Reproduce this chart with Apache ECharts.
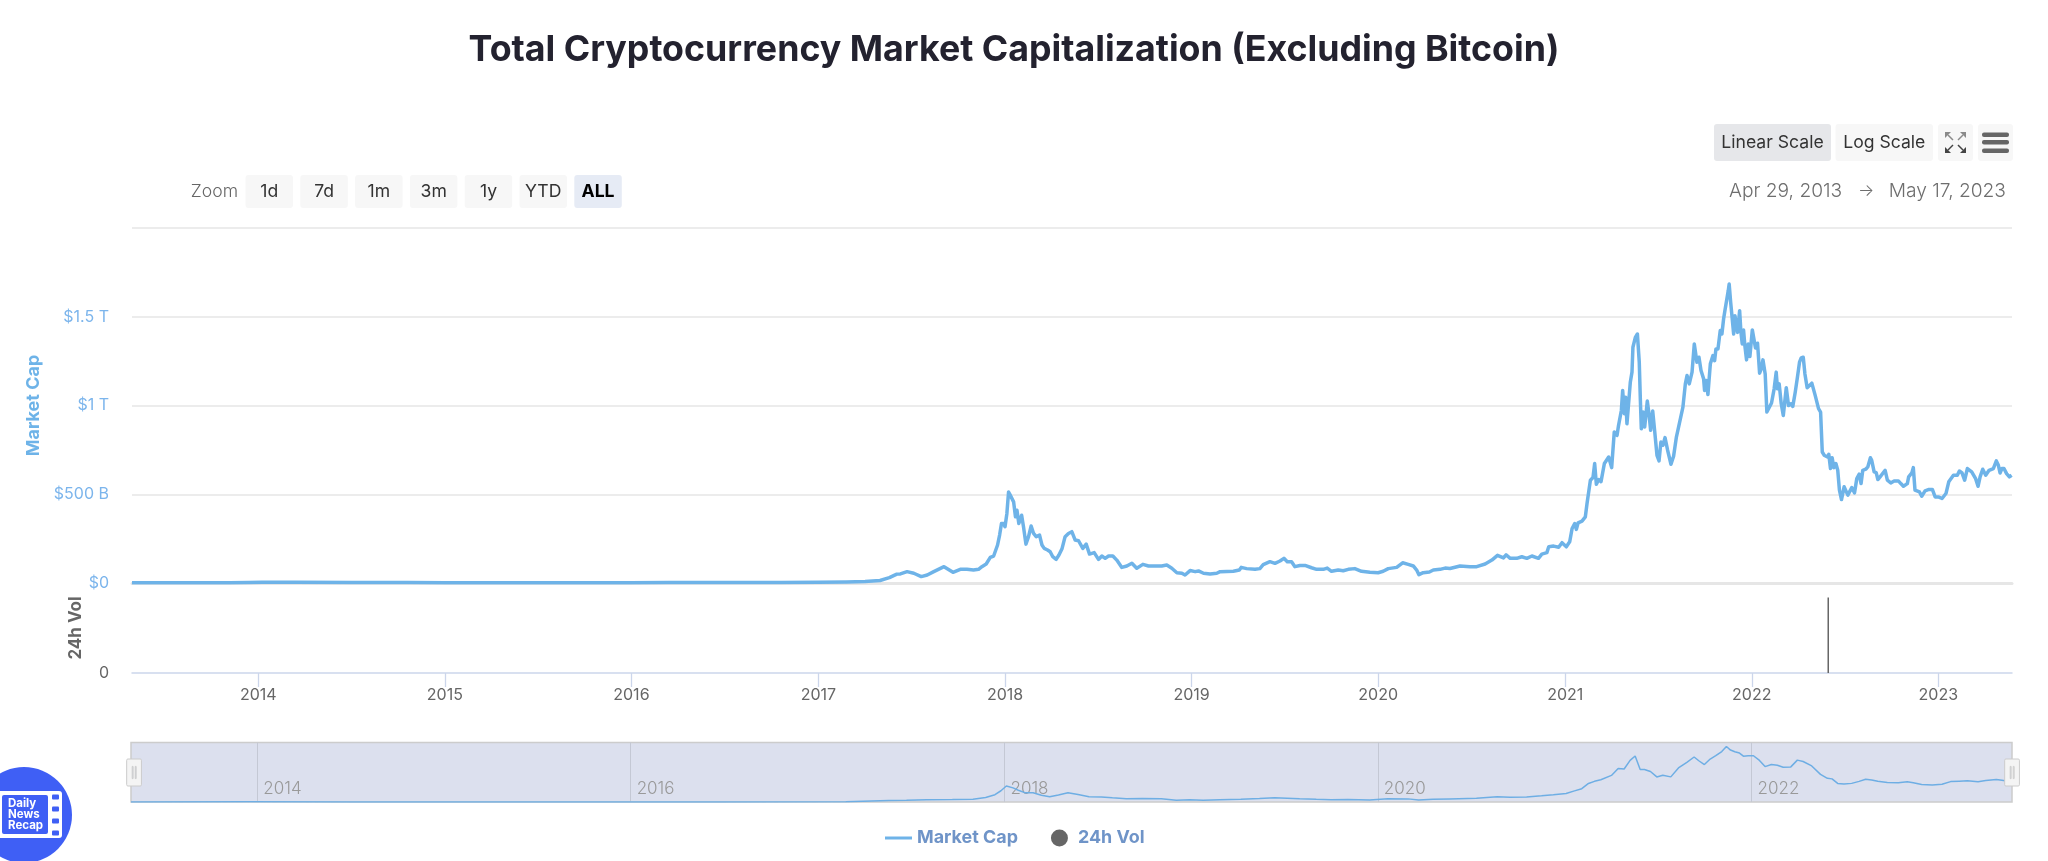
<!DOCTYPE html>
<html>
<head>
<meta charset="utf-8">
<title>Total Cryptocurrency Market Capitalization (Excluding Bitcoin)</title>
<script src="https://cdn.jsdelivr.net/npm/echarts@6/dist/echarts.min.js"></script>
<style>
html, body { margin: 0; padding: 0; background: #fff; }
#chart { width: 2048px; height: 861px; }
</style>
</head>
<body>
<div id="chart"></div>
<script>
// dates are decimal years, values are billions of USD
var capDates = [
	2013.323, 2013.6, 2013.85, 2013.95, 2014.02, 2014.2, 2014.5, 2014.8, 2015.0, 2015.5, 2016.0, 2016.2, 2016.5, 2016.8, 2017.0, 2017.15, 2017.25, 2017.33, 2017.38, 2017.42,
	2017.439, 2017.475, 2017.511, 2017.551, 2017.583, 2017.618, 2017.673, 2017.721,
	2017.760, 2017.796, 2017.831, 2017.858, 2017.876, 2017.899, 2017.921, 2017.939, 2017.949, 2017.960, 2017.971, 2017.981, 2017.992, 2018.000,
	2018.010, 2018.019, 2018.028, 2018.046, 2018.056, 2018.064, 2018.074, 2018.089, 2018.099, 2018.112, 2018.126, 2018.140, 2018.153, 2018.167, 2018.185, 2018.198, 2018.210, 2018.228, 2018.242, 2018.256, 2018.274, 2018.289, 2018.306, 2018.322, 2018.340, 2018.358, 2018.376, 2018.394, 2018.417, 2018.435, 2018.453, 2018.478, 2018.501, 2018.519, 2018.537, 2018.555, 2018.578, 2018.599, 2018.626, 2018.653, 2018.680, 2018.706, 2018.739, 2018.769, 2018.805, 2018.840, 2018.867, 2018.894, 2018.921, 2018.948, 2018.965, 2018.992,
	2019.019, 2019.037, 2019.064, 2019.099, 2019.135, 2019.153, 2019.224, 2019.256, 2019.266, 2019.295, 2019.340, 2019.366, 2019.384, 2019.420, 2019.447, 2019.474, 2019.495, 2019.513, 2019.536, 2019.554, 2019.581, 2019.608, 2019.643, 2019.670, 2019.706, 2019.727, 2019.750, 2019.786, 2019.813, 2019.840, 2019.875, 2019.911, 2019.956,
	2020.000, 2020.027, 2020.054, 2020.099, 2020.131, 2020.161, 2020.188, 2020.206, 2020.218, 2020.241, 2020.274, 2020.295, 2020.331, 2020.358, 2020.384, 2020.438, 2020.491, 2020.527, 2020.572, 2020.608, 2020.638, 2020.670, 2020.684, 2020.706, 2020.741, 2020.768, 2020.795, 2020.822, 2020.857, 2020.875, 2020.902, 2020.912, 2020.938, 2020.965, 2020.983,
	2021.006, 2021.024, 2021.037, 2021.051, 2021.060, 2021.069, 2021.090, 2021.108, 2021.117, 2021.126, 2021.135, 2021.149, 2021.158, 2021.167, 2021.180, 2021.192, 2021.210, 2021.233, 2021.249, 2021.263, 2021.278, 2021.285, 2021.301, 2021.308, 2021.317, 2021.324, 2021.331, 2021.349, 2021.358, 2021.363, 2021.376, 2021.387, 2021.397, 2021.403, 2021.408, 2021.417, 2021.426, 2021.440, 2021.449, 2021.458, 2021.469, 2021.480, 2021.492, 2021.503, 2021.513, 2021.524, 2021.535, 2021.549, 2021.567, 2021.581, 2021.596, 2021.608, 2021.631, 2021.644, 2021.653, 2021.665, 2021.680, 2021.692, 2021.697, 2021.706, 2021.717, 2021.728, 2021.742, 2021.747, 2021.756, 2021.765, 2021.778, 2021.792, 2021.801, 2021.808, 2021.819, 2021.831,
	2021.840, 2021.849, 2021.856, 2021.865, 2021.874, 2021.879, 2021.887, 2021.894, 2021.903, 2021.910, 2021.917, 2021.924, 2021.935, 2021.942, 2021.949, 2021.956, 2021.963, 2021.972, 2021.981, 2021.990,
	2022.003, 2022.010, 2022.020, 2022.031, 2022.042, 2022.051, 2022.060, 2022.072, 2022.081, 2022.090, 2022.106, 2022.120, 2022.131, 2022.138, 2022.147, 2022.158, 2022.169, 2022.185, 2022.197, 2022.210, 2022.220, 2022.233, 2022.245, 2022.256, 2022.265, 2022.276, 2022.285, 2022.297, 2022.322, 2022.340, 2022.358, 2022.369, 2022.378, 2022.388, 2022.406, 2022.413, 2022.422, 2022.431, 2022.440, 2022.451, 2022.461, 2022.470, 2022.481, 2022.495, 2022.504, 2022.515, 2022.536, 2022.551, 2022.563, 2022.576, 2022.586, 2022.595, 2022.611, 2022.622, 2022.636, 2022.643, 2022.656, 2022.667, 2022.676, 2022.688, 2022.715, 2022.727, 2022.745, 2022.763, 2022.786, 2022.799, 2022.813, 2022.834, 2022.841, 2022.858, 2022.866, 2022.875, 2022.899, 2022.911, 2022.929, 2022.950, 2022.968, 2022.983,
	2023.000, 2023.020, 2023.041, 2023.056, 2023.066, 2023.081, 2023.102, 2023.113, 2023.127, 2023.141, 2023.156, 2023.179, 2023.200, 2023.213, 2023.224, 2023.238, 2023.254, 2023.272, 2023.295, 2023.311, 2023.322, 2023.331, 2023.341, 2023.352, 2023.366, 2023.381, 2023.393
];
var capValues = [
	1, 1, 2, 3, 4, 4, 3, 3, 2, 2, 2, 3, 3, 3, 4, 6, 9, 14, 30, 50,
	51, 64, 55, 36, 45, 64, 92, 60,
	77, 77, 73, 77, 92, 107, 144, 152, 158, 214, 270, 335, 335, 317,
	392, 513, 495, 457, 373, 410, 335, 382, 317, 219, 261, 321, 279, 261, 270, 214, 195, 186, 176, 148, 133, 158, 195, 261, 279, 289, 242, 238, 195, 219, 163, 171, 133, 152, 139, 152, 152, 129, 88, 96, 111, 83, 105, 96, 96, 96, 101, 83, 58, 55, 45, 70,
	64, 68, 55, 51, 55, 64, 66, 73, 88, 81, 77, 81, 103, 120, 111, 124, 139, 120, 120, 92, 99, 99, 86, 77, 77, 84, 66, 73, 69, 77, 81, 66, 60,
	58, 66, 81, 88, 114, 105, 96, 73, 47, 58, 62, 73, 77, 84, 82, 96, 92, 92, 107, 129, 156, 141, 159, 139, 139, 148, 139, 152, 139, 163, 171, 204, 208, 201, 227,
	204, 232, 307, 335, 302, 339, 349, 373, 448, 457, 579, 594, 673, 556, 583, 571, 673, 710, 650, 851, 832, 882, 972, 1085, 954, 1047, 897, 1131, 1188, 1328, 1384, 1403, 1244, 1028, 869, 963, 879, 1025, 954, 860, 969, 851, 719, 688, 794, 776, 819, 748, 669, 714, 822, 879, 991, 1122, 1169, 1122, 1188, 1347, 1356, 1244, 1272, 1197, 1150, 1085, 1141, 1062, 1235, 1281, 1253, 1319, 1319, 1422,
	1403, 1487, 1534, 1538, 1647, 1684, 1581, 1572, 1403, 1506, 1497, 1412, 1534, 1412, 1347, 1426, 1338, 1257, 1347, 1276,
	1426, 1384, 1324, 1351, 1182, 1206, 1257, 1178, 963, 963, 1014, 1094, 1188, 1094, 1122, 1010, 944, 1100, 1000, 1010, 995, 1075, 1160, 1244, 1268, 1272, 1178, 1100, 1126, 1057, 982, 963, 738, 720, 710, 725, 645, 706, 650, 673, 635, 523, 470, 542, 551, 495, 538, 508, 588, 613, 560, 635, 641, 654, 706, 691, 626, 622, 583, 598, 635, 579, 564, 575, 575, 560, 545, 560, 598, 620, 650, 523, 513, 489, 519, 527, 527, 485,
	485, 476, 504, 570, 575, 607, 607, 631, 620, 579, 645, 626, 588, 545, 598, 641, 607, 635, 645, 688, 663, 620, 645, 645, 616, 598, 607
];
var volDates = [2022.41];
var volValues = [84];

var capTicks = [0, 500, 1000, 1500, 2000];
var capTickLabels = ['$0', '$500 B', '$1 T', '$1.5 T', ''];
var yearTicks = [2014, 2015, 2016, 2017, 2018, 2019, 2020, 2021, 2022, 2023];
var navYearTicks = [2014, 2016, 2018, 2020, 2022];
var zoomLabels = ['1d', '7d', '1m', '3m', '1y', 'YTD', 'ALL'];

var FONT = 'Inter, "Noto Sans", sans-serif';

function yearToTime(y) {
	var yr = Math.floor(y);
	var a = Date.UTC(yr, 0, 1);
	var b = Date.UTC(yr + 1, 0, 1);
	return a + (y - yr) * (b - a);
}

function zip(dates, values) {
	var arr = [];
	for (var i = 0; i < dates.length; i++) {
		arr.push([yearToTime(dates[i]), values[i]]);
	}
	return arr;
}

// the navigator holds a coarser copy of the line, three readings to a point
function coarsen(data) {
	var arr = [];
	for (var i = 0; i < data.length; i += 3) {
		var part = data.slice(i, i + 3);
		var sum = 0;
		part.forEach(function(d) {
			sum += d[1];
		});
		arr.push([part[0][0], sum / part.length]);
	}
	return arr;
}

var capData = zip(capDates, capValues);
var navData = coarsen(capData);
var volData = zip(volDates, volValues);
var yearValues = yearTicks.map(yearToTime);
var navYearValues = navYearTicks.map(yearToTime);
var xMin = yearToTime(2013.323);
var xMax = yearToTime(2023.395);

function yearText(value) {
	return String(new Date(value + 86400000).getUTCFullYear());
}

// buttons above the plot
function button(x, y, w, h, label, fill, color, weight) {
	return [{
		type : 'rect',
		shape : { x : x, y : y, width : w, height : h, r : 3 },
		style : { fill : fill }
	}, {
		type : 'text',
		x : x + w / 2,
		y : y + h / 2,
		style : { text : label, fill : color, font : weight + ' 17.6px ' + FONT, align : 'center', verticalAlign : 'middle' }
	}];
}

function label(x, y, text, align, color, size) {
	return {
		type : 'text',
		x : x,
		y : y,
		style : { text : text, fill : color, font : '300 ' + size + 'px ' + FONT, align : align, verticalAlign : 'middle' }
	};
}

// one corner arrow of the full screen icon
function corner(x, y, dx, dy, color) {
	return [{
		type : 'polygon',
		shape : { points : [[x, y], [x + 6 * dx, y], [x, y + 6 * dy]] },
		style : { fill : color }
	}, {
		type : 'line',
		shape : { x1 : x + 3 * dx, y1 : y + 3 * dy, x2 : x + 8 * dx, y2 : y + 8 * dy },
		style : { stroke : color, lineWidth : 1.5 }
	}];
}

var elements = [];
elements.push(label(238, 192, 'Zoom', 'right', '#666666', 17.6));
zoomLabels.forEach(function(text, i) {
	var isAll = text == 'ALL';
	elements = elements.concat(button(245.5 + i * 54.8, 175, 47.5, 33, text,
		isAll ? '#e6ebf5' : '#f7f7f7', isAll ? '#000000' : '#333333', isAll ? 700 : 400));
});
elements = elements.concat(button(1714, 124, 117, 37, 'Linear Scale', '#e6e7ea', '#333333', 400));
elements = elements.concat(button(1835.5, 124, 97.5, 37, 'Log Scale', '#f7f7f7', '#333333', 400));
elements.push({ type : 'rect', shape : { x : 1938, y : 124, width : 35, height : 37, r : 3 }, style : { fill : '#f7f7f7' } });
elements.push({ type : 'rect', shape : { x : 1978, y : 124, width : 35, height : 37, r : 3 }, style : { fill : '#f7f7f7' } });
elements = elements.concat(corner(1945, 132, 1, 1, '#8a8a8a'), corner(1966, 132, -1, 1, '#8a8a8a'),
	corner(1945, 153, 1, -1, '#444444'), corner(1966, 153, -1, -1, '#444444'));
[132.5, 140, 148.5].forEach(function(y) {
	elements.push({ type : 'rect', shape : { x : 1982, y : y, width : 27, height : 4.5, r : 2 }, style : { fill : '#666666' } });
});
elements.push(label(1729, 191, 'Apr 29, 2013', 'left', '#6e6e6e', 19.2));
elements.push(label(1866, 191, '→', 'center', '#6e6e6e', 17));
elements.push(label(2006, 191, 'May 17, 2023', 'right', '#6e6e6e', 19.2));

// logo in the lower left corner
elements.push({ type : 'circle', shape : { cx : 24, cy : 815, r : 48 }, style : { fill : '#3f5ff5' } });
elements.push({ type : 'rect', shape : { x : -4, y : 791, width : 66, height : 47, r : 3 }, style : { fill : '#ffffff' } });
elements.push({ type : 'rect', shape : { x : 2, y : 795, width : 46, height : 39, r : 2 }, style : { fill : '#3f5ff5' } });
[797, 809, 821, 833].forEach(function(y) {
	elements.push({ type : 'rect', shape : { x : 52, y : y - 2.5, width : 7, height : 5, r : 1 }, style : { fill : '#3f5ff5' } });
});
['Daily', 'News', 'Recap'].forEach(function(text, i) {
	elements.push({
		type : 'text',
		x : 8,
		y : 804 + i * 11,
		style : { text : text, fill : '#ffffff', font : '700 11.5px ' + FONT, verticalAlign : 'middle' }
	});
});

var obj = echarts.init(document.getElementById('chart'));
var option = {
	animation : false,
	title : {
		text : 'Total Cryptocurrency Market Capitalization (Excluding Bitcoin)',
		left : 1009,
		textAlign : 'center',
		top : 27,
		textStyle : { fontFamily : FONT, fontSize : 35.75, fontWeight : 700, color : '#23222f' }
	},
	tooltip : { trigger : 'axis' },
	legend : {
		left : 880,
		top : 824,
		itemWidth : 27,
		itemHeight : 17,
		itemGap : 33,
		textStyle : { fontFamily : FONT, fontSize : 17.9, fontWeight : 700, color : '#6f94c8' },
		data : [
			{ name : 'Market Cap', icon : 'path://M0 0H27V3H0z' },
			{ name : '24h Vol', icon : 'circle' }
		]
	},
	graphic : { elements : elements },
	grid : [
		{ left : 132, width : 1880, top : 228, height : 355 },
		{ left : 132, width : 1880, top : 583, height : 90 },
		{ left : 131, width : 1881, top : 742.5, height : 59.5, show : true, backgroundColor : '#dce0ee', borderColor : '#cccccc', borderWidth : 1.5 }
	],
	xAxis : [
		{
			type : 'value',
			gridIndex : 0,
			min : xMin,
			max : xMax,
			axisLine : { onZero : false, lineStyle : { color : '#e6e6e6', width : 3 } },
			axisTick : { show : false },
			axisLabel : { show : false },
			splitLine : { show : false }
		},
		{
			type : 'value',
			gridIndex : 1,
			min : xMin,
			max : xMax,
			axisLine : { onZero : false, lineStyle : { color : '#ccd6eb', width : 1.5 } },
			axisTick : { show : true, length : 14, customValues : yearValues, lineStyle : { color : '#ccd6eb', width : 1.3 } },
			axisLabel : {
				customValues : yearValues,
				margin : 14,
				fontFamily : FONT,
				fontSize : 16,
				fontWeight : 400,
				color : '#666666',
				formatter : yearText
			},
			splitLine : { show : false }
		},
		{
			type : 'value',
			gridIndex : 2,
			min : xMin,
			max : xMax,
			axisLine : { show : false },
			axisTick : { show : false, customValues : navYearValues },
			axisLabel : {
				customValues : navYearValues,
				inside : true,
				margin : 5,
				align : 'left',
				padding : [0, 0, 0, 6],
				fontFamily : FONT,
				fontSize : 17,
				fontWeight : 300,
				color : '#999999',
				formatter : yearText
			},
			splitLine : { show : true, lineStyle : { color : '#c4c8d4', width : 1 } }
		}
	],
	yAxis : [
		{
			type : 'value',
			gridIndex : 0,
			min : 0,
			max : 2000,
			interval : 500,
			name : 'Market Cap',
			nameLocation : 'middle',
			nameGap : 87.5,
			nameTextStyle : { fontFamily : FONT, fontSize : 18, fontWeight : 700, color : '#6eb3e8' },
			axisLine : { show : false },
			axisTick : { show : false },
			axisLabel : {
				margin : 23,
				fontFamily : FONT,
				fontSize : 16,
				fontWeight : 400,
				color : '#7cb5ec',
				formatter : function(value) {
					return capTickLabels[capTicks.indexOf(value)];
				}
			},
			splitLine : { lineStyle : { color : '#e6e6e6', width : 1.5 } }
		},
		{
			type : 'value',
			gridIndex : 1,
			min : 0,
			max : 100,
			interval : 100,
			name : '24h Vol',
			nameLocation : 'middle',
			nameGap : 48,
			nameTextStyle : { fontFamily : FONT, fontSize : 17, fontWeight : 700, color : '#666666' },
			axisLine : { show : false },
			axisTick : { show : false },
			axisLabel : {
				margin : 23,
				fontFamily : FONT,
				fontSize : 16,
				fontWeight : 400,
				color : '#666666',
				formatter : function(value) {
					return value == 0 ? '0' : '';
				}
			},
			splitLine : { show : false }
		},
		{
			type : 'value',
			gridIndex : 2,
			min : 0,
			max : 1740,
			axisLine : { show : false },
			axisTick : { show : false },
			axisLabel : { show : false },
			splitLine : { show : false }
		}
	],
	dataZoom : [
		{
			type : 'slider',
			xAxisIndex : [0, 1],
			filterMode : 'none',
			left : 132,
			width : 1880,
			top : 743,
			height : 59,
			start : 0,
			end : 100,
			showDetail : false,
			showDataShadow : false,
			brushSelect : false,
			moveHandleSize : 0,
			backgroundColor : 'rgba(0,0,0,0)',
			borderColor : 'rgba(0,0,0,0)',
			fillerColor : 'rgba(0,0,0,0)',
			handleIcon : 'path://M1 0H11A1 1 0 0 1 12 1V21A1 1 0 0 1 11 22H1A1 1 0 0 1 0 21V1A1 1 0 0 1 1 0ZM4.5 6V16H5.2V6ZM7 6V16H7.7V6Z',
			handleSize : 27,
			handleStyle : { color : '#f4f4f4', borderColor : '#cccccc', borderWidth : 1 }
		}
	],
	series : [
		{
			name : 'Market Cap',
			type : 'line',
			xAxisIndex : 0,
			yAxisIndex : 0,
			showSymbol : false,
			color : '#6eb3e8',
			lineStyle : { width : 3.5, join : 'round' },
			data : capData
		},
		{
			name : '24h Vol',
			type : 'bar',
			xAxisIndex : 1,
			yAxisIndex : 1,
			barWidth : 1.5,
			color : '#666666',
			data : volData
		},
		{
			name : 'Navigator',
			type : 'line',
			xAxisIndex : 2,
			yAxisIndex : 2,
			showSymbol : false,
			silent : true,
			tooltip : { show : false },
			color : '#6eaee4',
			lineStyle : { width : 1.5 },
			data : navData
		}
	]
};
obj.setOption(option);
</script>
</body>
</html>
